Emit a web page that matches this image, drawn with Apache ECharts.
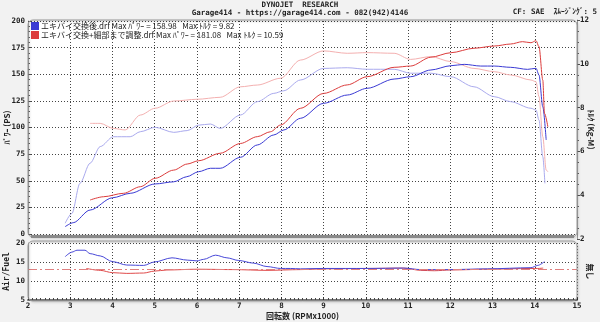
<!DOCTYPE html>
<html>
<head>
<meta charset="utf-8">
<script src="https://cdn.jsdelivr.net/npm/echarts@6.0.0/dist/echarts.min.js"></script>
<style>
  html, body { margin: 0; padding: 0; background: #f2f2f2; }
  #chart { width: 600px; height: 322px; }
</style>
</head>
<body>
<div id="chart"></div>
<script>
// rpm x1000 ticks
var rpmTicks = [2, 3, 4, 5, 6, 7, 8, 9, 10, 11, 12, 13, 14, 15];

// run 1 : blue
var runBlueName = 'エキバイ交換後.drf Max ﾊﾟﾜｰ = 158.98   Max ﾄﾙｸ = 9.82';
var pwrBlueRpm = [2.88, 3.07, 3.47, 4.0, 4.42, 5.01, 5.45, 5.76, 6.04, 6.32, 6.55, 7.03, 7.43, 7.82, 8.06, 8.45, 9.0, 9.56, 10.03, 10.67, 11.06, 11.54, 12.01, 12.33, 12.72, 13.04, 13.43, 13.83, 14.03, 14.1, 14.19, 14.27];
var pwrBlue = [6.9, 10.6, 22.5, 34, 38.2, 47, 49, 53.8, 58.5, 61.7, 61.7, 72, 83.6, 93, 97.7, 108.6, 122.7, 130.5, 136.8, 145.5, 147.7, 154, 158, 159.3, 157.7, 157.7, 156.5, 154.6, 155.6, 149.3, 119.5, 88.3];
var trqBlueRpm = [2.88, 3.04, 3.23, 3.47, 3.71, 4.02, 4.42, 4.66, 5.01, 5.45, 5.77, 6.04, 6.32, 6.55, 7.03, 7.43, 7.82, 8.06, 8.45, 9.0, 9.56, 10.03, 10.67, 11.06, 11.54, 12.01, 12.56, 13.04, 13.43, 13.91, 14.03, 14.1, 14.19, 14.24];
var trqBlue = [2.72, 3.17, 4.54, 5.46, 6.22, 6.67, 6.67, 6.9, 7.1, 6.87, 6.95, 7.2, 7.25, 7.05, 7.66, 8.27, 8.65, 8.77, 9.26, 9.79, 9.82, 9.75, 9.75, 9.57, 9.57, 9.41, 8.95, 8.5, 8.27, 7.97, 7.89, 7.43, 5.76, 4.54];
var afrBlueRpm = [2.88, 3.04, 3.16, 3.35, 3.47, 3.71, 4.0, 4.34, 4.74, 4.99, 5.41, 5.77, 6.0, 6.16, 6.44, 6.71, 6.99, 7.34, 7.66, 7.98, 8.21, 8.45, 9.0, 10.03, 10.9, 11.3, 12.01, 12.88, 13.91, 14.07, 14.23];
var afrBlue = [16.4, 17.6, 18.1, 18.1, 17.2, 16.6, 15.1, 14.2, 14.1, 15.0, 16.1, 15.5, 15.3, 15.7, 16.8, 16.1, 15.4, 14.7, 13.8, 13.3, 13.3, 13.2, 13.3, 13.3, 13.4, 13.0, 13.0, 13.2, 13.5, 14.1, 15.1];

// run 2 : red
var runRedName = 'エキバイ交換+細部まで調整.drf Max ﾊﾟﾜｰ = 181.08   Max ﾄﾙｸ = 10.59';
var pwrRedRpm = [3.47, 3.79, 4.26, 4.66, 5.01, 5.45, 5.77, 6.04, 6.55, 7.03, 7.43, 7.74, 7.98, 8.45, 9.0, 9.56, 10.03, 10.67, 11.06, 11.54, 12.01, 12.56, 13.04, 13.43, 13.71, 13.91, 14.03, 14.1, 14.19, 14.23, 14.31];
var pwrRed = [31.9, 35, 38.2, 44.4, 52.3, 60, 65.7, 68.8, 75.8, 85, 91.4, 96, 102.3, 118, 132, 140, 147.7, 156.5, 157.7, 166, 170.2, 174.4, 176.5, 178.4, 180.6, 179.6, 181.5, 175.9, 144.6, 113.3, 100.7];
var trqRedRpm = [3.47, 3.71, 4.02, 4.3, 4.66, 5.01, 5.45, 6.0, 6.55, 7.03, 7.43, 7.98, 8.45, 9.0, 9.56, 10.03, 10.67, 11.06, 11.54, 12.01, 12.56, 13.04, 13.43, 13.91, 14.03, 14.1, 14.19, 14.27, 14.31];
var trqRed = [7.28, 7.28, 7.05, 6.98, 7.66, 7.97, 8.3, 8.38, 8.47, 8.95, 9.03, 9.34, 10.17, 10.59, 10.48, 10.51, 10.48, 10.2, 10.33, 10.1, 9.79, 9.64, 9.49, 9.26, 9.18, 8.5, 6.67, 5.15, 5.07];
var afrRedRpm = [3.38, 3.71, 4.0, 4.34, 4.74, 4.99, 5.29, 6.0, 6.87, 7.66, 8.45, 9.0, 10.03, 10.9, 11.3, 11.62, 12.01, 12.88, 13.91, 14.07, 14.2];
var afrRed = [13.3, 12.8, 12.2, 12.0, 12.1, 12.6, 12.9, 13.1, 13.0, 12.8, 13.0, 13.2, 13.3, 13.4, 12.8, 12.7, 12.9, 13.1, 13.3, 13.3, 13.4];

var afrTarget = 13.2;

function pairs(xs, ys) {
  return xs.map(function (x, i) { return [x, ys[i]]; });
}

var MONO = '"DejaVu Sans Mono", "Noto Sans CJK JP", monospace';
var JP = '"Noto Sans CJK JP", "DejaVu Sans", sans-serif';
var labelStyle = { fontSize: 7.5, fontWeight: 'bold', fontFamily: MONO, color: '#222' };
var dotted = { show: true, lineStyle: { color: '#444', type: [1, 2], width: 1 } };

var chart = echarts.init(document.getElementById('chart'), null, { renderer: 'canvas' });

var panelBorder = { fill: 'none', stroke: '#9a9a9a', lineWidth: 1, shadowBlur: 2, shadowColor: 'rgba(0,0,0,0.25)', shadowOffsetX: 1, shadowOffsetY: 1 };

var option = {
  backgroundColor: '#f2f2f2',
  animation: false,
  title: [
    { text: 'DYNOJET  RESEARCH', left: 'center', top: 1, padding: 0,
      textStyle: { fontSize: 7.5, fontWeight: 'bold', fontFamily: MONO, color: '#222' } },
    { text: 'Garage414 - https://garage414.com - 082(942)4146', left: 'center', top: 9, padding: 0,
      textStyle: { fontSize: 7.5, fontWeight: 'bold', fontFamily: MONO, color: '#222' } },
    { text: 'CF: SAE  ｽﾑｰｼﾞﾝｸﾞ: 5', right: 3, top: 8, padding: 0,
      textStyle: { fontSize: 7.5, fontWeight: 'bold', fontFamily: MONO, color: '#222' } }
  ],
  legend: {
    data: [runBlueName, runRedName],
    orient: 'vertical', left: 31, top: 22, padding: 0,
    itemWidth: 8, itemHeight: 8, itemGap: 1, icon: 'rect',
    textStyle: { fontSize: 8, fontFamily: JP, color: '#222', padding: [0, 0, 0, -3] }
  },
  graphic: [
    { type: 'rect', z: 10, silent: true, shape: { x: 28, y: 20, width: 549, height: 217, r: 5 }, style: panelBorder },
    { type: 'line', z: 10, silent: true, shape: { x1: 31, y1: 236.5, x2: 574, y2: 236.5 }, style: { stroke: '#8a8a8a', lineWidth: 3 } },
    { type: 'rect', z: 10, silent: true, shape: { x: 28, y: 241, width: 549, height: 60, r: 5 }, style: panelBorder }
  ],
  grid: [
    { left: 28, top: 21, width: 549, height: 213, outerBoundsMode: 'none', containLabel: false,
      show: true, backgroundColor: '#fff', borderWidth: 0 },
    { left: 28, top: 20, width: 549, height: 219, outerBoundsMode: 'none', containLabel: false },
    { left: 28, top: 243, width: 549, height: 57, outerBoundsMode: 'none', containLabel: false,
      show: true, backgroundColor: '#fff', borderWidth: 0 }
  ],
  xAxis: [
    { type: 'value', gridIndex: 0, min: 2, max: 15, interval: 1,
      axisLine: { show: false }, axisTick: { show: false }, axisLabel: { show: false }, splitLine: dotted },
    { type: 'value', gridIndex: 1, min: 2, max: 15, interval: 1, show: false },
    { type: 'value', gridIndex: 2, min: 2, max: 15, interval: 1,
      axisLine: { show: true, lineStyle: { color: '#777', width: 2 } },
      axisTick: { show: true, inside: true, length: 3, lineStyle: { color: '#333' } },
      minorTick: { show: true, splitNumber: 10, length: 2, lineStyle: { color: '#444' } },
      axisLabel: Object.assign({ margin: 2, formatter: function (v) { return rpmTicks.indexOf(v) >= 0 ? v : ''; } }, labelStyle),
      splitLine: dotted,
      name: '回転数 (RPMx1000)', nameLocation: 'middle', nameGap: 12, nameMoveOverlap: false,
      nameTextStyle: { fontSize: 8, fontWeight: 'bold', fontFamily: JP, color: '#222' } }
  ],
  yAxis: [
    { type: 'value', gridIndex: 0, min: 0, max: 200, interval: 25,
      axisLine: { show: true, lineStyle: { color: '#999' } },
      axisTick: { show: true, inside: true, length: 3, lineStyle: { color: '#555' } },
      minorTick: { show: true, splitNumber: 5, length: 2, lineStyle: { color: '#666' } },
      axisLabel: Object.assign({ margin: 3 }, labelStyle),
      splitLine: dotted,
      name: 'ﾊﾟﾜｰ (PS)', nameLocation: 'middle', nameGap: 17, nameRotate: 90, nameMoveOverlap: false,
      nameTextStyle: { fontSize: 8, fontWeight: 'bold', fontFamily: JP, color: '#222' } },
    { type: 'value', gridIndex: 1, position: 'right', min: 2, max: 12, interval: 2,
      axisLine: { show: true, lineStyle: { color: '#999' } },
      axisTick: { show: true, length: 3, lineStyle: { color: '#555' } },
      minorTick: { show: true, splitNumber: 4, length: 2, lineStyle: { color: '#666' } },
      axisLabel: Object.assign({ margin: 3 }, labelStyle),
      splitLine: { show: false },
      name: 'ﾄﾙｸ (Kg-M)', nameLocation: 'middle', nameGap: 10, nameRotate: -90, nameMoveOverlap: false,
      nameTextStyle: { fontSize: 8, fontWeight: 'bold', fontFamily: JP, color: '#222' } },
    { type: 'value', gridIndex: 2, min: 5, max: 20, interval: 5,
      axisLine: { show: true, lineStyle: { color: '#999' } },
      axisTick: { show: false },
      axisLabel: Object.assign({ margin: 3 }, labelStyle),
      splitLine: dotted,
      name: 'Air/Fuel', nameLocation: 'middle', nameGap: 17, nameRotate: 90, nameMoveOverlap: false,
      nameTextStyle: { fontSize: 8, fontWeight: 'bold', fontFamily: MONO, color: '#222' } },
    { type: 'value', gridIndex: 2, position: 'right', min: 5, max: 20, interval: 5,
      axisLine: { show: false }, axisTick: { show: false }, axisLabel: { show: false }, splitLine: { show: false },
      name: '無し', nameLocation: 'middle', nameGap: 9, nameRotate: -90, nameMoveOverlap: false,
      nameTextStyle: { fontSize: 8, fontWeight: 'bold', fontFamily: JP, color: '#222' } }
  ],
  series: [
    { name: 'trqBlue', type: 'line', xAxisIndex: 1, yAxisIndex: 1, data: pairs(trqBlueRpm, trqBlue),
      showSymbol: false, smooth: 0.3, smoothMonotone: 'x', color: '#aaaaee', lineStyle: { width: 1 } },
    { name: 'trqRed', type: 'line', xAxisIndex: 1, yAxisIndex: 1, data: pairs(trqRedRpm, trqRed),
      showSymbol: false, smooth: 0.3, smoothMonotone: 'x', color: '#f4b0b0', lineStyle: { width: 1 } },
    { name: runBlueName, type: 'line', xAxisIndex: 0, yAxisIndex: 0, data: pairs(pwrBlueRpm, pwrBlue),
      showSymbol: false, smooth: 0.3, smoothMonotone: 'x', color: '#3a3ad4', lineStyle: { width: 1 } },
    { name: runRedName, type: 'line', xAxisIndex: 0, yAxisIndex: 0, data: pairs(pwrRedRpm, pwrRed),
      showSymbol: false, smooth: 0.3, smoothMonotone: 'x', color: '#dc3c3c', lineStyle: { width: 1 } },
    { name: 'afrRed', type: 'line', xAxisIndex: 2, yAxisIndex: 2, data: pairs(afrRedRpm, afrRed),
      showSymbol: false, smooth: 0.3, smoothMonotone: 'x', color: '#e04a4a', lineStyle: { width: 1 },
      markLine: { silent: true, symbol: 'none', label: { show: false },
        lineStyle: { color: '#e08080', type: [9, 3, 2, 3], width: 1 },
        data: [{ yAxis: afrTarget }] } },
    { name: 'afrBlue', type: 'line', xAxisIndex: 2, yAxisIndex: 2, data: pairs(afrBlueRpm, afrBlue),
      showSymbol: false, smooth: 0.3, smoothMonotone: 'x', color: '#4848d8', lineStyle: { width: 1 } }
  ]
};

chart.setOption(option);
</script>
</body>
</html>
